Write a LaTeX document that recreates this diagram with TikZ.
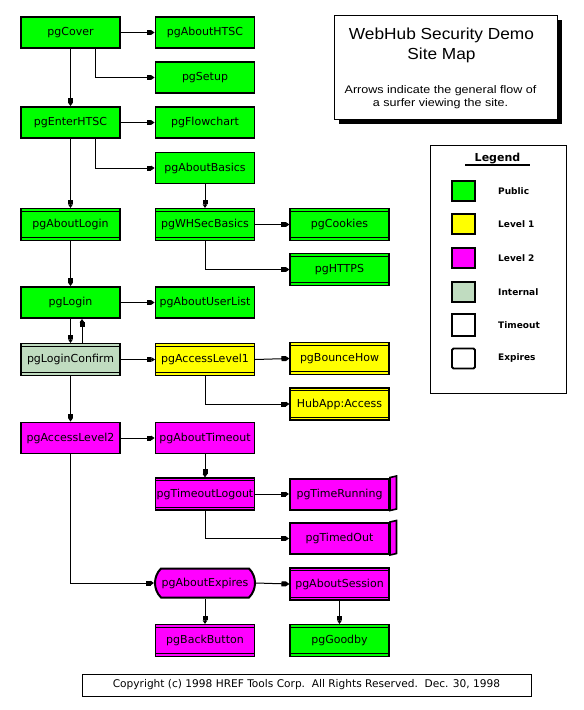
\documentclass[tikz,border=0pt]{standalone}
\usepackage{fontspec}
\setmainfont{DejaVu Sans}
\newfontfamily\titlefont[FakeStretch=1.08]{Liberation Sans}
\newfontfamily\subfont[FakeStretch=1.14]{Liberation Sans}
\usetikzlibrary{arrows.meta,shapes.misc,calc}
\definecolor{pubgreen}{HTML}{00FF00}
\definecolor{lvlone}{HTML}{FFFF00}
\definecolor{lvltwo}{HTML}{FF00FF}
\definecolor{internal}{HTML}{C0DCC0}
\begin{document}
\begin{tikzpicture}[x=1pt,y=-1pt,
  pg/.style={minimum width=99pt, minimum height=31pt, inner sep=0pt,
    font=\fontsize{11}{12}\selectfont, text=black},
  single/.style={pg, draw, line width=1.8pt},
  dbl/.style={pg, draw, line width=1.1pt, minimum height=32pt,
    path picture={
      \draw[line width=0.9pt] ([yshift=-2.7pt]path picture bounding box.north west) -- ([yshift=-2.7pt]path picture bounding box.north east);
      \draw[line width=0.9pt] ([yshift=2.7pt]path picture bounding box.south west) -- ([yshift=2.7pt]path picture bounding box.south east);}},
  tbox/.style={pg, draw, line width=2pt},
  expbox/.style={pg, draw, line width=2pt, shape=rounded rectangle,
    rounded rectangle arc length=90, minimum width=100pt, minimum height=29pt},
  side/.style={draw, line width=1.6pt, fill=lvltwo, line join=miter},
  arr/.style={line width=1pt, -{Rectangle[length=4.5pt,width=5pt]Triangle[length=3.5pt,width=4.5pt]}},
  legsq/.style={draw, line width=1.5pt, minimum width=23pt, minimum height=20pt, inner sep=0pt},
  leglab/.style={anchor=west, inner sep=0pt, font=\bfseries\fontsize{9}{10}\selectfont},
  frame/.style={draw, line width=1pt}
]
\useasboundingbox[fill=white] (0,0) rectangle (584,710);

% title box
\fill[black] (339,20) rectangle (562,124);
\node[frame, fill=white, minimum width=223pt, minimum height=104pt, inner sep=0pt] (titlebox) at (445.5,67) {};
\node[align=center, inner sep=0pt, font=\titlefont\fontsize{16}{20.7}\selectfont] (titletext) at (441.5,45.5) {WebHub Security Demo\\Site Map};
\node[align=center, inner sep=0pt, font=\subfont\fontsize{11}{12.5}\selectfont] (subtext) at (440.5,97) {Arrows indicate the general flow of\\a surfer viewing the site.};

% legend
\node[frame, minimum width=136pt, minimum height=248pt, inner sep=0pt] (legendbox) at (498,269) {};
\node[inner sep=0pt, font=\bfseries\fontsize{11}{12}\selectfont] (legendtitle) at (497.5,158.5) {Legend};
\coordinate (ulA) at (465,165);
\coordinate (ulB) at (530,165);
\draw[line width=1.4pt] (ulA) -- (ulB);
\node[legsq, fill=pubgreen] (lq1) at (463.5,191) {};
\node[legsq, fill=lvlone] (lq2) at (463.5,224) {};
\node[legsq, fill=lvltwo] (lq3) at (463.5,258) {};
\node[legsq, fill=internal] (lq4) at (463.5,292) {};
\node[legsq, line width=2.4pt, minimum height=22pt] (lq5) at (463.5,325) {};
\node[legsq, rounded corners=1.5pt, line width=1.8pt] (lq6) at (463.5,358.5) {};
\node[leglab] (ll1) at (498,191) {Public};
\node[leglab] (ll2) at (498,224) {Level 1};
\node[leglab] (ll3) at (498,258) {Level 2};
\node[leglab] (ll4) at (498,292) {Internal};
\node[leglab] (ll5) at (498,325) {Timeout};
\node[leglab] (ll6) at (498,358.5) {Expires};

% footer
\node[frame, minimum width=449pt, minimum height=22pt, inner sep=0pt,
  font=\fontsize{10.6}{12}\selectfont] (footer) at (306.5,685)
  {Copyright (c) 1998 HREF Tools Corp.\ \ All Rights Reserved.\ \ Dec. 30, 1998};

% nodes
\node[single, fill=pubgreen] (cover) at (70.5,32.5) {pgCover};
\node[single, fill=pubgreen] (abouthtsc) at (205,32.5) {pgAboutHTSC};
\node[single, fill=pubgreen] (setup) at (205,77.5) {pgSetup};
\node[single, fill=pubgreen] (enter) at (70.5,122.5) {pgEnterHTSC};
\node[single, fill=pubgreen] (flow) at (205,122.5) {pgFlowchart};
\node[single, fill=pubgreen] (basics) at (205,168) {pgAboutBasics};
\node[dbl, fill=pubgreen] (aboutlogin) at (70.5,224.5) {pgAboutLogin};
\node[dbl, fill=pubgreen] (whsec) at (205,224.5) {pgWHSecBasics};
\node[dbl, fill=pubgreen] (cookies) at (339.5,224.5) {pgCookies};
\node[dbl, fill=pubgreen] (https) at (339.5,269.5) {pgHTTPS};
\node[single, fill=pubgreen] (login) at (70.5,302.5) {pgLogin};
\node[single, fill=pubgreen] (userlist) at (205,302.5) {pgAboutUserList};
\node[dbl, fill=internal] (confirm) at (70.5,359.5) {pgLoginConfirm};
\node[dbl, fill=lvlone] (al1) at (205,359.5) {pgAccessLevel1};
\node[dbl, fill=lvlone] (bounce) at (339.5,358.5) {pgBounceHow};
\node[dbl, fill=lvlone] (hub) at (339.5,404) {HubApp:Access};
\node[single, fill=lvltwo] (al2) at (70.5,438) {pgAccessLevel2};
\node[single, fill=lvltwo] (timeout) at (205,438) {pgAboutTimeout};
\node[dbl, fill=lvltwo, text opacity=0] (tlogout) at (205,494) {pgTimeoutLogout};
\begin{scope}
  \clip ([xshift=1pt]tlogout.south west) rectangle ([xshift=-1pt]tlogout.north east);
  \node[pg] (tlogouttext) at (tlogout.center) {pgTimeoutLogout};
\end{scope}
\node[tbox, fill=lvltwo] (trunning) at (339.5,494) {pgTimeRunning};
\node[tbox, fill=lvltwo] (timedout) at (339.5,538.5) {pgTimedOut};
\node[expbox, fill=lvltwo] (expires) at (205,583) {pgAboutExpires};
\node[dbl, fill=lvltwo] (session) at (339.5,584) {pgAboutSession};
\node[dbl, fill=lvltwo] (back) at (205,640.5) {pgBackButton};
\node[dbl, fill=pubgreen] (goodby) at (339.5,640.5) {pgGoodby};

% 3D side faces of timeout boxes
\draw[side] (trunning.north east) -- ++(6.5,-1.5) -- ($(trunning.south east)+(6.5,-1.5)$) -- (trunning.south east) -- cycle;
\draw[side] (timedout.north east) -- ++(6.5,-1.5) -- ($(timedout.south east)+(6.5,-1.5)$) -- (timedout.south east) -- cycle;

% connectors
\draw[arr] (cover.east) -- (abouthtsc.west);
\draw[arr] ([xshift=24.5pt]cover.south) |- (setup.west);
\draw[arr] (cover.south) -- (enter.north);
\draw[arr] (enter.east) -- (flow.west);
\draw[arr] ([xshift=24.5pt]enter.south) |- (basics.west);
\draw[arr] (enter.south) -- (aboutlogin.north);
\draw[arr] (basics.south) -- (whsec.north);
\draw[arr] (whsec.east) -- (cookies.west);
\draw[arr] (whsec.south) |- (https.west);
\draw[arr] (aboutlogin.south) -- (login.north);
\draw[arr] (login.east) -- (userlist.west);
\draw[arr] (login.south) -- (confirm.north);
\draw[arr] ([xshift=11.5pt]confirm.north) -- ([xshift=11.5pt]login.south);
\draw[arr] (confirm.east) -- (al1.west);
\draw[arr] (al1.east) -- (bounce.west);
\draw[arr] (al1.south) |- (hub.west);
\draw[arr] (confirm.south) -- (al2.north);
\draw[arr] (al2.east) -- (timeout.west);
\draw[arr] (al2.south) |- (expires.west);
\draw[arr] (timeout.south) -- (tlogout.north);
\draw[arr] (tlogout.east) -- (trunning.west);
\draw[arr] (tlogout.south) |- (timedout.west);
\draw[arr] (expires.east) -- (session.west);
\draw[arr] (expires.south) -- (back.north);
\draw[arr] (session.south) -- (goodby.north);
\end{tikzpicture}
\end{document}
